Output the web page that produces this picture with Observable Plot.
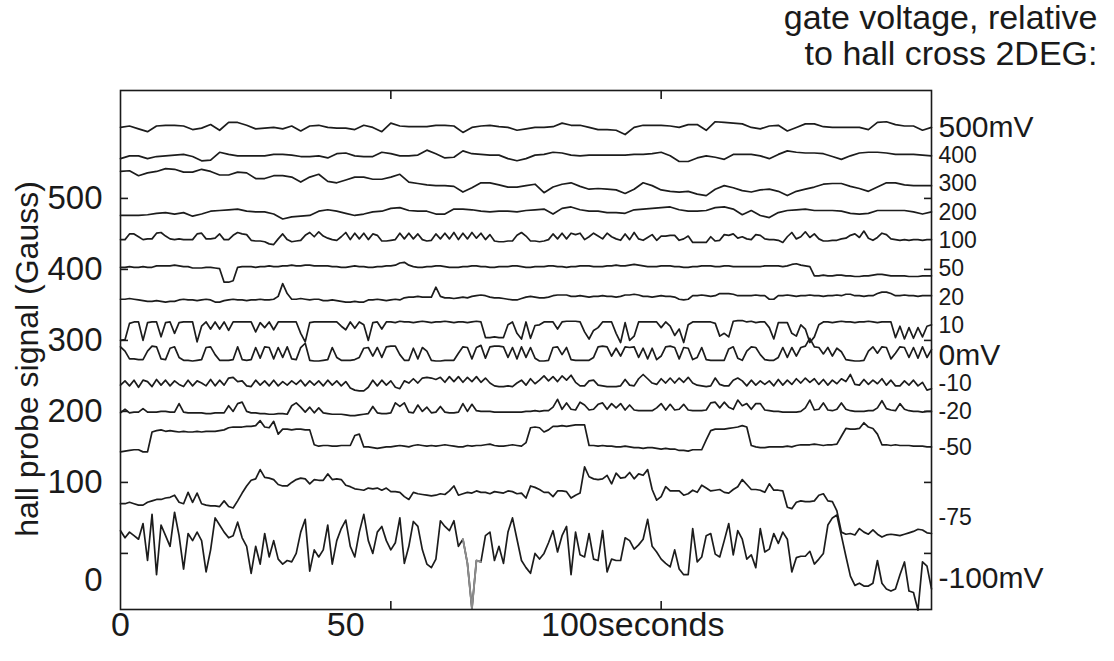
<!DOCTYPE html>
<html><head><meta charset="utf-8">
<script src="https://cdn.jsdelivr.net/npm/d3@7"></script>
<script src="https://cdn.jsdelivr.net/npm/@observablehq/plot@0.6"></script>
<style>body{margin:0;background:#fff} svg{display:block}</style>
</head><body><div id="chart"></div>
<script>
// Trace values (Gauss). 500..200 mV every 2 s, the rest every 1 s, 0..180 s.
const v500 = [600,602,598,594,602,603,603,602,597,599,604,596,607,607,603,598,599,600,598,602,595,602,603,
600,599,599,597,603,600,594,606,602,601,601,601,603,603,602,593,600,602,603,601,600,596,598,600,
600,601,606,603,603,600,597,597,596,590,600,603,603,603,602,600,604,604,596,608,607,606,605,
600,598,602,603,595,600,605,605,601,600,600,600,600,597,607,608,604,602,602,596,600];
const v400 = [556,560,560,556,559,560,561,562,559,553,554,565,562,560,560,560,560,562,562,561,559,559,560,
557,563,564,560,559,559,565,563,560,560,561,568,563,557,558,567,563,562,561,561,556,553,556,561,
562,565,564,561,560,561,561,561,561,561,562,562,563,565,560,552,552,557,560,558,555,562,562,
562,560,556,562,567,565,564,564,563,559,555,560,564,565,565,564,562,562,562,561,560];
const v300 = [538,539,532,536,538,542,541,537,537,541,538,533,533,537,536,528,528,532,532,530,523,530,534,
524,522,526,530,530,527,527,530,534,523,521,519,518,518,517,509,515,522,522,519,516,516,518,520,
508,516,520,522,517,513,514,513,512,507,513,522,518,512,510,509,510,506,504,513,518,515,511,
509,512,513,510,504,510,513,516,520,521,521,517,514,510,516,522,522,519,518,518,518];
const v200 = [476,476,476,477,479,480,478,480,475,478,482,483,484,485,482,481,481,478,471,474,475,476,482,
484,482,479,476,478,481,482,486,487,483,482,482,478,478,485,485,484,482,481,482,482,481,483,484,
485,478,486,488,484,482,482,480,480,479,484,485,486,487,488,484,482,482,483,487,488,485,477,
483,476,473,480,483,484,485,483,483,483,482,479,478,479,483,483,483,483,481,478,481];
const v100 = [442,442,450,450,446,442,443,443,451,452,447,443,442,443,442,442,442,450,451,443,443,444,450,442,442,448,452,450,449,441,440,440,439,436,435,443,450,442,439,440,441,448,452,446,453,447,
444,442,441,446,452,442,451,443,451,442,450,448,440,440,441,442,451,443,451,443,450,442,440,441,450,443,451,443,452,442,451,443,452,444,451,442,449,440,439,439,440,440,448,452,447,440,440,
439,440,442,450,443,451,443,451,449,451,442,446,451,447,443,451,446,443,441,450,442,452,443,441,445,449,441,447,447,448,448,441,443,447,438,438,438,438,446,440,441,449,448,450,444,446,
443,442,449,448,443,442,442,441,438,446,452,443,446,453,445,450,443,440,440,441,441,443,444,448,450,445,454,444,441,445,451,449,443,442,441,442,441,442,442,441,442,442];
const v50 = [403,403,404,403,403,404,403,403,405,405,405,405,406,405,404,404,402,402,402,403,403,402,
401,382,382,384,403,
404,404,404,403,404,404,405,404,404,405,405,406,405,405,406,406,405,405,
405,405,404,404,403,403,404,405,404,404,403,403,404,404,405,405,406,409,410,406,404,403,403,404,404,405,405,404,403,403,403,404,404,405,405,404,404,403,403,404,404,404,405,405,404,403,403,404,
404,404,405,405,404,404,403,404,404,405,405,405,404,404,404,405,405,406,405,405,406,407,406,405,404,404,404,405,405,405,404,404,403,403,404,404,405,405,405,404,404,405,405,404,404,404,
404,404,404,404,405,405,405,405,404,405,407,408,406,405,404,391,391,392,391,391,392,392,391,391,390,390,391,391,392,393,393,392,391,391,391,391,390,390,390,391,391,391];
const v20 = [358,358,359,358,357,356,355,355,356,355,354,355,355,357,358,357,357,356,357,358,357,354,354,356,357,358,357,357,356,357,357,358,357,357,358,362,380,366,358,358,359,358,357,358,358,
356,356,357,356,355,354,354,355,354,354,357,357,358,357,356,357,358,357,360,361,361,362,361,361,361,375,362,360,360,359,360,361,360,362,363,364,363,361,360,360,359,358,357,357,359,361,362,361,
360,360,361,363,364,364,364,362,362,363,362,361,362,362,363,362,362,361,362,364,364,365,364,362,362,361,362,363,362,362,361,358,357,358,363,363,364,363,362,363,366,366,366,365,363,363,
363,363,364,363,363,358,358,363,363,364,363,362,363,363,364,363,363,362,363,363,364,363,365,365,363,363,362,363,363,366,368,368,366,363,363,364,363,363,362,363,363,363];
const v10 = [300,301,324,326,326,300,325,326,326,305,325,326,310,325,326,326,326,298,320,326,316,326,316,326,314,326,326,326,326,326,312,325,318,326,315,326,326,326,326,326,310,298,325,326,326,
326,326,326,326,320,315,326,317,326,322,300,325,326,316,326,326,325,327,326,326,325,326,327,326,325,326,326,327,326,325,326,326,325,326,327,326,304,304,305,304,304,322,326,310,302,326,303,321,
322,326,326,326,316,326,327,327,327,326,312,302,314,318,326,326,326,310,297,325,300,306,326,326,326,326,326,318,326,320,307,316,297,322,326,326,326,326,326,324,306,310,305,327,328,328,
326,327,325,326,326,318,302,325,325,325,310,306,322,316,297,305,322,326,326,325,326,327,326,326,325,326,326,327,326,325,326,326,326,304,320,302,318,303,318,305,320,322];
const v0 = [291,285,274,274,273,273,285,292,291,274,273,289,291,276,272,272,271,272,273,290,291,280,272,272,272,273,291,273,272,273,290,275,291,290,274,290,276,291,274,273,290,296,272,271,271,
272,273,290,276,272,272,272,273,276,289,290,278,290,276,291,292,292,280,272,272,289,274,290,285,272,271,271,272,272,272,282,291,290,274,290,293,275,291,292,292,291,276,290,274,291,276,290,275,
271,271,272,290,291,280,290,273,272,272,272,272,276,291,292,291,278,289,278,291,290,291,276,289,274,289,273,278,291,292,290,274,290,289,273,276,290,273,272,272,272,272,288,291,275,272,
285,291,290,280,273,272,272,276,290,276,290,278,290,292,303,291,290,281,290,278,289,284,273,272,271,271,272,285,291,282,291,290,274,282,291,290,276,290,275,291,276,287];
const vm10 = [237,243,236,244,234,244,242,235,245,237,244,236,243,238,235,244,236,243,240,236,245,236,244,237,247,248,242,243,236,235,244,237,243,236,244,236,242,237,243,238,244,236,243,237,243,
236,244,237,243,236,242,233,230,229,229,234,244,236,244,237,243,234,232,243,240,246,240,247,248,247,245,248,241,249,242,249,241,248,242,249,241,247,240,236,235,235,236,235,240,244,237,246,239,
244,250,243,249,242,250,244,251,241,236,236,243,244,237,236,235,235,235,236,245,237,236,246,252,246,240,238,246,240,247,240,247,241,248,240,237,236,235,236,247,238,236,236,244,247,243,
236,244,237,243,238,243,236,245,237,244,238,246,240,247,241,246,238,245,237,244,239,246,242,252,238,237,245,238,244,239,246,237,244,236,236,243,237,244,236,241,230,232];
const vm20 = [198,203,198,199,199,204,199,199,199,200,200,199,199,211,199,198,198,198,198,197,197,198,198,198,208,200,211,213,200,198,198,197,197,196,196,197,197,196,208,212,206,199,206,198,205,
198,197,196,196,196,195,194,194,195,196,197,207,198,197,197,198,212,207,212,199,198,209,200,206,198,199,207,199,198,198,199,211,200,210,201,200,200,200,199,199,199,199,199,199,199,200,200,201,
200,201,201,206,217,203,212,203,202,213,209,202,203,210,212,203,211,205,211,202,209,202,201,201,201,201,205,211,202,210,202,203,210,202,201,201,201,202,212,213,205,213,206,203,216,208,
211,203,211,211,202,201,200,200,199,199,199,199,200,205,216,202,203,212,202,201,203,212,203,201,200,200,200,201,201,205,215,204,202,201,211,203,201,200,200,199,200,200];
const vm50 = [143,144,145,146,146,143,143,171,173,174,172,173,172,171,172,171,171,172,171,172,172,172,173,174,177,178,178,178,179,179,180,187,178,177,186,168,175,175,174,175,175,174,174,153,151,
152,152,151,151,152,152,152,166,168,150,150,149,148,149,150,150,151,152,151,150,152,153,152,151,152,151,152,153,152,151,150,150,152,151,152,152,153,154,152,151,151,152,153,152,151,156,177,178,
177,171,174,179,179,180,179,180,181,181,181,152,152,151,152,151,151,150,150,151,150,149,149,148,149,149,148,147,148,147,147,145,145,144,146,146,146,160,173,175,175,175,176,177,178,180,
178,152,150,149,149,150,150,150,150,151,150,152,153,153,153,154,153,152,153,153,154,165,176,175,175,176,184,178,176,168,153,153,152,153,152,152,152,151,151,151,150,150];
const vm75 = [70,70,72,70,68,68,72,74,76,76,78,79,82,72,70,86,72,85,70,68,67,67,66,74,66,64,74,85,95,103,105,118,107,106,104,97,95,95,100,104,106,105,98,104,103,
103,112,104,105,104,96,94,91,90,89,92,91,92,89,92,87,87,86,80,76,86,84,83,82,81,82,84,83,88,95,82,84,86,85,88,86,86,84,87,86,85,88,87,84,85,78,95,93,
90,86,86,80,88,88,87,78,82,85,122,108,105,104,105,110,98,113,106,107,114,105,112,110,118,90,75,80,94,88,88,88,82,84,89,86,96,92,88,89,90,86,85,90,94,104,
97,90,90,89,86,98,89,89,88,65,63,72,74,73,73,74,82,84,74,73,60,30,27,28,26,35,30,27,33,27,23,26,27,26,25,27,29,31,34,33,29,28];
const vm100 = [32,22,30,25,20,42,-10,55,-30,40,25,10,58,25,-22,28,18,30,18,-26,5,50,40,30,22,25,44,22,10,-28,10,-15,28,-5,18,-8,-15,-10,-12,0,30,48,-25,5,-5,
5,40,-15,18,35,47,10,-5,30,55,18,0,30,38,18,5,15,50,-14,10,45,38,5,-15,-20,-8,46,38,32,46,10,20,-14,-78,-10,-12,25,30,-10,10,-14,30,50,20,-10,-20,-28,0,
-8,0,15,32,2,25,38,-30,30,-2,-5,28,-8,-10,32,-26,-8,-10,-10,22,18,6,12,20,48,10,2,-8,-14,-19,5,-22,-30,-30,35,-12,-5,25,28,-1,-5,18,42,-2,32,20,
-8,-2,-20,35,2,6,28,14,30,20,-26,-6,-4,-4,3,-15,-8,0,40,50,54,25,-4,-32,-45,-42,-46,-46,-42,-10,-42,-50,-53,-50,-30,-12,-53,-55,-80,-12,-18,-50];

// Gate-voltage labels at the right edge and the level (Gauss) each sits at
const gateLabels = ["500mV","400","300","200","100","50","20","10","0mV","-10","-20","-50","-75","-100mV"];
const gateLabelLevel = [600,560,521,480,441,401,360,321,279,239,200,149,51,-35];
const gateLabelBig = [true,false,false,false,false,false,false,false,true,false,false,false,false,true];

// Axis ticks
const yTickValues = [0,100,200,300,400,500];
const yLabelValues = [100,200,300,400,500];
const xTickValues = [60,120];
const xLabelValues = [0,50];
const timeSpan = [0,180];
const grayStretch = [76,80]; // seconds where the -100 mV trace is drawn lighter

const traces = [v500,v400,v300,v200,v100,v50,v20,v10,v0,vm10,vm20,vm50,vm75,vm100];
const rows = traces.flatMap((vals, k) => vals.map((v, i) => ({trace: gateLabels[k], t: i * (timeSpan[1] - timeSpan[0]) / (vals.length - 1), v})));
const grayRows = rows.filter(d => d.trace === "-100mV" && d.t >= grayStretch[0] && d.t <= grayStretch[1]);
const labelIdx = gateLabels.map((_, i) => i);

const font = "'Liberation Sans', Arial, sans-serif";
const tick = 8;
const chart = Plot.plot({
  width: 1114, height: 661,
  marginLeft: 120, marginRight: 183, marginTop: 90, marginBottom: 52,
  x: {domain: timeSpan, label: null},
  y: {domain: [-79, 652], label: null},
  style: {fontFamily: font, color: "#1a1a1a", background: "#fff", overflow: "visible"},
  marks: [
    Plot.line(rows, {x: "t", y: "v", z: "trace", stroke: "#1c1c1c", strokeWidth: 1.7, strokeLinejoin: "round"}),
    Plot.line(grayRows, {x: "t", y: "v", stroke: "#8c8c8c", strokeWidth: 1.9}),
    Plot.frame({stroke: "#1a1a1a", strokeWidth: 1.6}),
    // inward tick marks on all four sides
    Plot.axisY(yTickValues, {anchor: "left", tickSize: tick, dx: tick, tickFormat: () => "", strokeWidth: 1.6, label: null}),
    Plot.axisY(yTickValues, {anchor: "right", tickSize: tick, dx: -tick, tickFormat: () => "", strokeWidth: 1.6, label: null}),
    Plot.axisX(xTickValues, {anchor: "bottom", tickSize: tick, dy: -tick, tickFormat: () => "", strokeWidth: 1.6, label: null}),
    Plot.axisX(xTickValues, {anchor: "top", tickSize: tick, dy: tick, tickFormat: () => "", strokeWidth: 1.6, label: null}),
    // tick labels
    Plot.axisY(yLabelValues, {anchor: "left", tickSize: 0, tickPadding: 18, fontSize: 33, label: null}),
    Plot.axisY([0], {anchor: "left", tickSize: 0, tickPadding: 18, dy: 27, fontSize: 33, label: null}),
    Plot.axisX(xLabelValues, {anchor: "bottom", tickSize: 0, tickPadding: 2, fontSize: 34, label: null}),
    Plot.axisX([100], {anchor: "bottom", tickSize: 0, tickPadding: 2, fontSize: 34, label: null, textAnchor: "start", dx: -30, tickFormat: () => "100seconds"}),
    Plot.text(labelIdx, {y: i => gateLabelLevel[i], text: i => gateLabels[i], frameAnchor: "right", dx: 7, textAnchor: "start", fontSize: i => gateLabelBig[i] ? 30 : 23}),
    Plot.text(["gate voltage, relative"], {frameAnchor: "top-right", dx: 166, dy: -72, textAnchor: "end", lineAnchor: "middle", fontSize: 34}),
    Plot.text(["to hall cross 2DEG:"], {frameAnchor: "top-right", dx: 166, dy: -36, textAnchor: "end", lineAnchor: "middle", fontSize: 34}),
    Plot.text(["hall probe signal (Gauss)"], {frameAnchor: "left", rotate: -90, dx: -93, dy: 9, textAnchor: "middle", lineAnchor: "middle", fontSize: 32})
  ]
});
document.getElementById("chart").append(chart);
</script>
</body></html>
